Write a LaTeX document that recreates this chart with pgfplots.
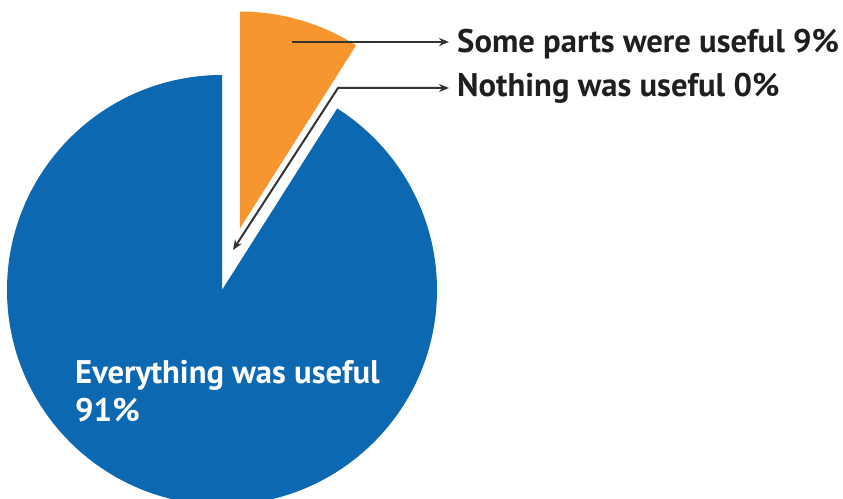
\documentclass[border=0pt]{standalone}
\usepackage{pgfplots}
\pgfplotsset{compat=1.18}
\usepackage{pgfplotstable}
\usetikzlibrary{arrows.meta}
\usepackage{fontspec}
\setmainfont{PT Sans}
\definecolor{pieblue}{HTML}{0B68B1}
\definecolor{pieorange}{HTML}{F7962F}
\definecolor{arrowgray}{HTML}{333333}
\pgfplotstableread{
label value
Everything 91
Some 9
Nothing 0
}\piedata
\begin{document}
\begin{tikzpicture}
\pgfplotstablegetelem{0}{value}\of\piedata \edef\vA{\pgfplotsretval}
\pgfplotstablegetelem{1}{value}\of\piedata \edef\vB{\pgfplotsretval}
\pgfmathsetmacro{\aA}{3.6*\vA}
\pgfmathsetmacro{\aB}{3.6*\vB}
\pgfmathsetmacro{\endA}{90+\aA}
\pgfmathsetmacro{\endB}{90-\aB}
\pgfmathsetmacro{\midB}{90-\aB/2}
\pgfmathsetmacro{\ox}{64*cos(\midB)}
\pgfmathsetmacro{\oy}{64*sin(\midB)}
\begin{axis}[
  scale only axis, width=843bp, height=499bp,
  xmin=0, xmax=843, ymin=0, ymax=499,
  hide axis, clip mode=global,
]
\path (axis cs:0,0) rectangle (axis cs:843,499);
% blue slice (91%)
\fill[pieblue] (axis cs:222,209) -- ++(90:215bp) arc[start angle=90, end angle=\endA, radius=215bp] -- cycle;
% orange slice (9%), exploded
\fill[pieorange] (axis cs:222+\ox,209+\oy) -- ++(\endB:217bp) arc[start angle=\endB, end angle=90, radius=217bp] -- cycle;
% arrows
\draw[arrowgray, line width=2bp, -{Stealth[length=10bp,width=8bp]}] (axis cs:292,457) -- (axis cs:449,457);
\draw[arrowgray, line width=2bp, {Stealth[length=10bp,width=8bp]}-{Stealth[length=10bp,width=8bp]}] (axis cs:233,249) -- (axis cs:338,411) -- (axis cs:449,411);
% labels
\node[anchor=base west, inner sep=0pt, font=\bfseries\fontsize{32.8}{38}\selectfont, text=black!88] at (axis cs:457,446) {Some parts were useful 9\%};
\node[anchor=base west, inner sep=0pt, font=\bfseries\fontsize{32.8}{38}\selectfont, text=black!88] at (axis cs:457,402) {Nothing was useful 0\%};
\node[anchor=base west, inner sep=0pt, font=\bfseries\fontsize{32.8}{38}\selectfont, text=white] at (axis cs:75,115) {Everything was useful};
\node[anchor=base west, inner sep=0pt, font=\bfseries\fontsize{32.8}{38}\selectfont, text=white] at (axis cs:75,77) {91\%};
\end{axis}
\end{tikzpicture}
\end{document}
